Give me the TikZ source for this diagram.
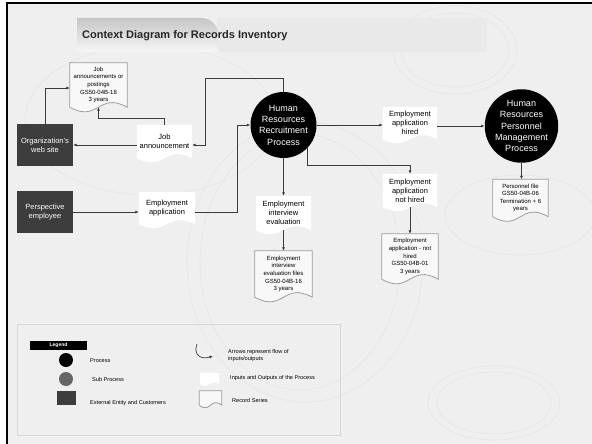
\documentclass[tikz,border=0pt]{standalone}
\usepackage{fontspec}
\setmainfont{Liberation Sans}
\usetikzlibrary{arrows.meta,calc}
\pgfdeclarelayer{back}
\pgfdeclarelayer{shapes}
\pgfsetlayers{back,shapes,main}
\definecolor{pagebg}{HTML}{EFEFEF}
\definecolor{entity}{HTML}{3D3D3D}
\definecolor{flowc}{HTML}{3A3A3A}
\definecolor{recline}{HTML}{9C9C9C}
\definecolor{deco}{HTML}{E6E6E6}
\definecolor{subproc}{HTML}{666666}
\definecolor{legline}{HTML}{D8D8D8}
\definecolor{tabtop}{HTML}{C6C6C6}
\definecolor{tabbot}{HTML}{F6F6F6}
\definecolor{band}{HTML}{E9E9E9}
% document shape with wavy bottom drawn behind a named node
\newcommand\docshape[3][]{%
  \begin{pgfonlayer}{shapes}
  \path[#1] (#2.north west) -- (#2.north east) -- (#2.south east)
     .. controls ($(#2.south)+(0pt,#3)$) and ($(#2.south)+(0pt,-#3)$) .. (#2.south west) -- cycle;
  \end{pgfonlayer}}
\begin{document}
\begin{tikzpicture}[x=1pt,y=-1pt,
  entitybox/.style={fill=entity, text=white, minimum width=56pt, minimum height=42pt,
    inner sep=0pt, align=center, font=\fontsize{7.5}{8.8}\selectfont},
  procnode/.style={circle, fill=black, text=white, minimum size=66pt, inner sep=0pt,
    align=center, font=\fontsize{9}{11.3}\selectfont},
  iodoc/.style={inner sep=0pt, align=center, font=\fontsize{7.5}{9}\selectfont},
  recdoc/.style={inner sep=0pt, align=center, font=\fontsize{6}{7.6}\selectfont},
  flow/.style={draw=flowc, line width=0.7pt, -{Latex[length=3.5pt,width=3pt]}},
  iofill/.style={fill=white},
  recfill/.style={fill=white!55!pagebg, draw=recline, line width=0.8pt},
  legtext/.style={anchor=west, inner sep=0pt, align=left, font=\fontsize{5.6}{7}\selectfont},
  decoline/.style={draw=deco, line width=0.6pt}
]
\useasboundingbox (0,0) rectangle (592,444);
\begin{pgfonlayer}{back}
  \fill[white] (0,0) rectangle (592,444);
  \fill[pagebg] (7,3) rectangle (592,444);
  % faint decorative rings
  \draw[decoline] (455,50) ellipse [x radius=62, y radius=44];
  \draw[decoline] (455,50) ellipse [x radius=54, y radius=37];
  \draw[decoline] (494,403) ellipse [x radius=66, y radius=37];
  \draw[decoline] (494,403) ellipse [x radius=57, y radius=31];
  \draw[decoline] (300,262) ellipse [x radius=100, y radius=128];
  \draw[decoline] (305,262) ellipse [x radius=118, y radius=140];
  \draw[decoline] (150,120) ellipse [x radius=125, y radius=75];
  \draw[decoline] (520,215) ellipse [x radius=75, y radius=40];
  % title tab
  \fill[band] (217,18) rectangle (487,52);
  \shade[top color=tabtop, bottom color=tabbot]
     (77,18) -- (200,18) .. controls (210,18) and (214,22) .. (218,30) -- (218,52) -- (77,52) -- cycle;
  % legend frame
  \draw[legline, line width=0.8pt] (17,324) rectangle (340,435);
\end{pgfonlayer}
\draw[black, line width=2.4pt] (7,444) -- (7,3);
\draw[black, line width=1.4pt] (6,3) -- (592,3);

\node[anchor=west, inner sep=0pt, font=\fontsize{11}{13}\selectfont\bfseries, text=black!85] (title) at (82,36) {Context Diagram for Records Inventory};

% entities
\node[entitybox] (org) at (45,145) {Organization's\\web site};
\node[entitybox] (pers) at (45,212) {Perspective\\employee};

% processes
\node[procnode] (hrr) at (283.5,125) {Human\\Resources\\Recruitment\\Process};
\node[procnode] (hrp) at (521.5,126) {Human\\Resources\\Personnel\\Management\\Process};

% inputs / outputs
\node[iodoc, minimum width=55pt, minimum height=33pt] (jobann) at (164.5,141.5) {Job\\announcement};
\node[iodoc, minimum width=56pt, minimum height=32pt] (empapp) at (167,208) {Employment\\application};
\node[iodoc, minimum width=54pt, minimum height=32pt] (hired) at (410,123) {Employment\\application\\hired};
\node[iodoc, minimum width=54pt, minimum height=33pt] (nothired) at (410,190.5) {Employment\\application\\not hired};
\node[iodoc, minimum width=55pt, minimum height=34pt] (interview) at (283.5,213) {Employment\\interview\\evaluation};
\docshape[iofill]{jobann}{14pt}
\docshape[iofill]{empapp}{14pt}
\docshape[iofill]{hired}{14pt}
\docshape[iofill]{nothired}{14pt}
\docshape[iofill]{interview}{14pt}

% record series
\node[recdoc, minimum width=57pt, minimum height=44pt] (jobrec) at (98.5,85) {Job\\announcements or\\postings\\GS50-04B-18\\3 years};
\node[recdoc, minimum width=55pt, minimum height=37pt] (perfile) at (520.5,198) {Personnel file\\GS50-04B-06\\Termination + 6\\years};
\node[recdoc, minimum width=56pt, minimum height=45pt] (nhrec) at (410,256.5) {Employment\\application - not\\hired\\GS50-04B-01\\3 years};
\node[recdoc, minimum width=57pt, minimum height=46pt] (intrec) at (283.5,274) {Employment\\interview\\evaluation files\\GS50-04B-16\\3 years};
\docshape[recfill]{jobrec}{16pt}
\docshape[recfill]{perfile}{16pt}
\docshape[recfill]{nhrec}{16pt}
\docshape[recfill]{intrec}{16pt}

% connectors
\coordinate (c1) at (205,78);
\coordinate (c2) at (237,212);
\draw[flow] (org.north) |- ([yshift=-3pt]jobrec.west);
\draw[flow] (jobann.north) -- ++(0,-6) -| (jobrec.south);
\draw[flow] (jobann.west |- org.east) -- (org.east);
\draw[flow] (hrr.north) |- (c1) |- ([yshift=-3.5pt]jobann.east);
\draw[flow] (pers.east) -- (pers.east -| empapp.west);
\draw[flow] (empapp.east |- pers.east) -- (c2) |- (hrr.west);
\draw[flow] (hrr.east) -- (hrr.east -| hired.west);
\draw[flow] (hired.east |- hrp.west) -- (hrp.west);
\draw[flow] (hrp.south) -- (hrp.south |- perfile.north);
\draw[flow] (hrr.-45) |- ($(nothired.north)+(0,-8)$) -- (nothired.north);
\draw[flow] (nothired.south) -- (nhrec.north);
\draw[flow] (hrr.south) -- (interview.north);
\draw[flow] (interview.south) -- (intrec.north);

% legend
\node[fill=black, text=white, minimum width=57pt, minimum height=9pt, inner sep=0pt,
      font=\fontsize{5}{6}\selectfont\bfseries] (leg) at (58.5,345.5) {Legend};
\node[circle, fill=black, minimum size=14pt, inner sep=0pt] (lproc) at (66,360) {};
\node[legtext] (lproct) at (90,361) {Process};
\node[circle, fill=subproc, minimum size=14pt, inner sep=0pt] (lsub) at (66,379) {};
\node[legtext] (lsubt) at (92,379) {Sub Process};
\node[fill=entity, minimum width=19pt, minimum height=14pt, inner sep=0pt] (lent) at (66.5,398) {};
\node[legtext] (lentt) at (90,403) {External Entity and Customers};
\coordinate (la1) at (197,344);
\coordinate (la2) at (213,356);
\draw[flow] (la1) .. controls (193,355) and (201,360) .. (la2);
\node[legtext] (larrt) at (228,356) {Arrows represent flow of\\inputs/outputs};
\node[minimum width=19pt, minimum height=11pt, inner sep=0pt] (lio) at (209.5,378.5) {};
\docshape[iofill]{lio}{6pt}
\node[legtext] (liot) at (230,378) {Inputs and Outputs of the Process};
\node[minimum width=22pt, minimum height=14pt, inner sep=0pt] (lrec) at (210.5,398) {};
\docshape[recfill]{lrec}{9pt}
\node[legtext] (lrect) at (232,400) {Record Series};
\end{tikzpicture}
\end{document}
